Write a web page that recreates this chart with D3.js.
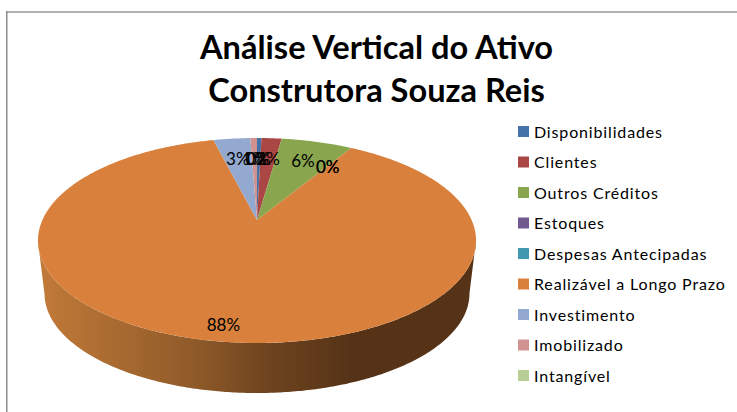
<!DOCTYPE html>
<html>
<head>
<meta charset="utf-8">
<script src="https://cdnjs.cloudflare.com/ajax/libs/d3/7.8.5/d3.min.js"></script>
<style>
html, body { margin: 0; padding: 0; background: #fff; }
svg { display: block; }
text { font-family: Lato, "Open Sans", sans-serif; }
</style>
</head>
<body>
<div id="chart"></div>
<script>
const titleLines = ["Análise Vertical do Ativo", "Construtora Souza Reis"];
const categories = ["Disponibilidades", "Clientes", "Outros Créditos", "Estoques", "Despesas Antecipadas", "Realizável a Longo Prazo", "Investimento", "Imobilizado", "Intangível"];
const shares = [0.4, 1.8, 6.4, 0, 0, 87.5, 3.3, 0.6, 0];
const labels = ["0%", "2%", "6%", "0%", "0%", "88%", "3%", "1%", "0%"];
const colors = ["#4572a7", "#aa4643", "#89a54e", "#71588f", "#4198af", "#d9813c", "#93a9cf", "#d19392", "#b9cd96"];

const width = 737, height = 412;

const svg = d3.select("#chart").append("svg")
	.attr("width", width)
	.attr("height", height);

// chart frame: only the top and left edges are in the picture
svg.append("rect")
	.attr("x", 6).attr("y", 11)
	.attr("width", width - 6).attr("height", 2)
	.attr("fill", "#b2b2b2");
svg.append("rect")
	.attr("x", 6).attr("y", 11)
	.attr("width", 1.5).attr("height", height - 11)
	.attr("fill", "#8c8c8c");

// gradient for the outer wall of the pie
let grad = svg.append("defs").append("linearGradient")
	.attr("id", "wall")
	.attr("gradientUnits", "userSpaceOnUse")
	.attr("x1", 40).attr("x2", 350).attr("y1", 0).attr("y2", 0);
[[0, "#c17a38"], [0.5, "#8f5a29"], [0.72, "#70451f"], [1, "#563317"]].forEach(s =>
	grad.append("stop").attr("offset", s[0]).attr("stop-color", s[1]));

// tilted disc: perspective projection of the unit circle, apex is the centre
const cx = 257, cy = 220, rx = 214.6, ry = 98.4, tilt = -0.2;
function project(angle, r=1, scale=1, dy=0) {
	let u = Math.sin(angle) * r;
	let v = -Math.cos(angle) * r;
	let w = 1 + tilt * v;
	return [cx + scale * rx * u / w, cy + dy + scale * ry * v / w];
}

const pie = d3.pie().value(d => d).sort(null);
const arcs = pie(shares);
const line = d3.line();

// wall: front half of the top rim, then the bottom rim back again
const rightEdge = Math.acos(tilt), leftEdge = 2 * Math.PI - rightEdge;
let front = d3.range(rightEdge, leftEdge, 0.01);
let wall = front.map(a => project(a)).concat(front.slice().reverse().map(a => project(a, 1, 0.97, 53.7)));
svg.append("path")
	.attr("d", line(wall) + "Z")
	.attr("fill", "url(#wall)");

// top face
arcs.forEach((d, i) => {
	if (d.endAngle === d.startAngle) return;
	let pts = [project(0, 0)];
	for (let a = d.startAngle; a < d.endAngle; a += 0.01) pts.push(project(a));
	pts.push(project(d.endAngle));
	svg.append("path")
		.attr("d", line(pts) + "Z")
		.attr("fill", colors[i]);
});

// data labels
const labelRadius = d3.scaleLinear().domain([0, 88]).range([0.72, 0.88]);
arcs.forEach((d, i) => {
	let p = project((d.startAngle + d.endAngle) / 2, labelRadius(d.value));
	svg.append("text")
		.attr("x", p[0]).attr("y", p[1] + 7)
		.attr("text-anchor", "middle")
		.attr("font-size", 17)
		.attr("fill", "#000")
		.text(labels[i]);
});

// title
titleLines.forEach((t, i) => {
	svg.append("text")
		.attr("x", 376.5).attr("y", 59 + i * 43)
		.attr("text-anchor", "middle")
		.attr("font-size", 32.6)
		.attr("font-weight", 700)
		.attr("fill", "#000")
		.text(t);
});

// legend
const legendY = d3.scalePoint().domain(categories).range([131.5, 375.5]);
categories.forEach((c, i) => {
	let y = legendY(c);
	svg.append("rect")
		.attr("x", 518).attr("y", y - 5.5)
		.attr("width", 11).attr("height", 11)
		.attr("fill", colors[i]);
	svg.append("text")
		.attr("x", 534).attr("y", y + 6)
		.attr("font-size", 16)
		.attr("letter-spacing", 0.85)
		.attr("fill", "#000")
		.text(c);
});
</script>
</body>
</html>
